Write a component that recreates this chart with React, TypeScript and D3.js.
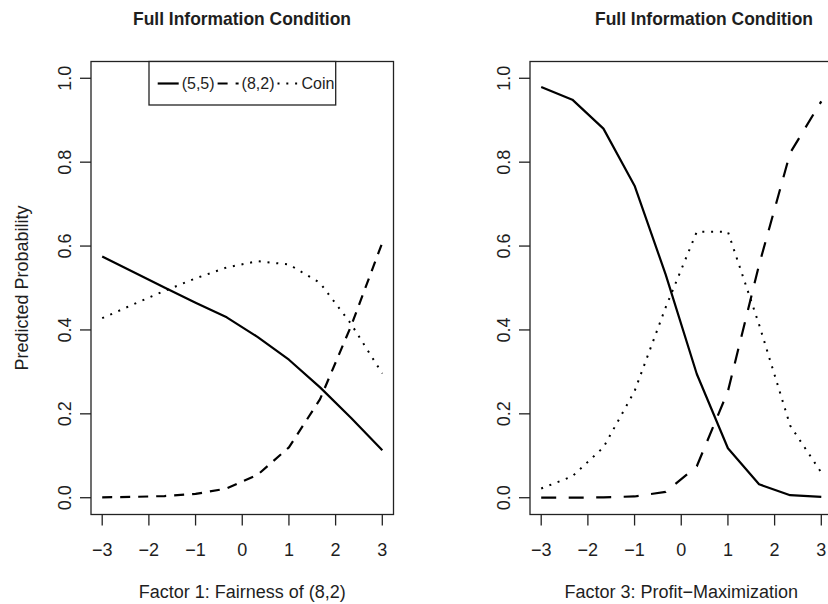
import React, { useRef, useEffect } from "react";
import * as d3 from "d3";

// evaluation grid of the factor scores (10 points from -3 to 3)
const factorGrid = [-3, -2.333, -1.667, -1, -0.333, 0.333, 1, 1.667, 2.333, 3];
const xTicks = [-3, -2, -1, 0, 1, 2, 3];
const yTicks = [0, 0.2, 0.4, 0.6, 0.8, 1.0];

// Factor 1: Fairness of (8,2)
const fairnessEven = [0.575, 0.538, 0.501, 0.465, 0.43, 0.383, 0.329, 0.263, 0.19, 0.113];
const fairnessUneven = [0.001, 0.002, 0.004, 0.009, 0.022, 0.055, 0.12, 0.235, 0.41, 0.608];
const fairnessCoin = [0.428, 0.461, 0.493, 0.523, 0.549, 0.564, 0.556, 0.512, 0.414, 0.296];

// Factor 3: Profit-Maximization
const profitEven = [0.979, 0.949, 0.88, 0.744, 0.532, 0.295, 0.118, 0.032, 0.006, 0.002];
const profitUneven = [0.0, 0.0, 0.001, 0.003, 0.014, 0.075, 0.254, 0.555, 0.822, 0.945];
const profitCoin = [0.022, 0.051, 0.12, 0.254, 0.454, 0.634, 0.634, 0.413, 0.172, 0.06];

const legendLabels = ["(5,5)", "(8,2)", "Coin"];
const panelTitle = "Full Information Condition";
const xAxisTitles = ["Factor 1: Fairness of (8,2)", "Factor 3: Profit\u2212Maximization"];
const yAxisTitle = "Predicted Probability";

const FONT = "'Liberation Sans', Arial, Helvetica, sans-serif";
const INK = "#1e1e1e";

const App = () => {
    const ref = useRef<SVGSVGElement>(null);

    useEffect(() => {
        const svg = d3.select(ref.current);
        svg.selectAll("*").remove();

        const width = 828;
        const height = 604;
        const top = 61.5;
        const bottom = 514.5;

        svg.attr("width", width).attr("height", height).style("background", "#fff");

        const y = d3.scaleLinear().domain([-0.04, 1.04]).range([bottom, top]);

        const panels = [
            {
                x0: 91, x1: 393.5,
                series: [fairnessEven, fairnessUneven, fairnessCoin],
                dash: "10,8",
                xTitle: xAxisTitles[0],
                titleX: 242,
                first: true,
            },
            {
                x0: 530, x1: 832.5,
                series: [profitEven, profitUneven, profitCoin],
                dash: "15,12.5",
                xTitle: xAxisTitles[1],
                titleX: 704,
                first: false,
            },
        ];

        const dotDash = "2,6.8";

        panels.forEach(p => {
            const x = d3.scaleLinear().domain([-3.24, 3.24]).range([p.x0, p.x1]);
            const g = svg.append("g");

            const line = d3.line<number>()
                .x((_, i) => x(factorGrid[i]))
                .y(d => y(d));

            const styles = [
                { dash: null, width: 2.2 },
                { dash: p.dash, width: 2.2 },
                { dash: dotDash, width: 2 },
            ];

            p.series.forEach((s, i) => {
                g.append("path")
                    .datum(s)
                    .attr("fill", "none")
                    .attr("stroke", "#000")
                    .attr("stroke-width", styles[i].width)
                    .attr("stroke-linejoin", "round")
                    .attr("stroke-dasharray", styles[i].dash)
                    .attr("d", line);
            });

            // plot box
            g.append("rect")
                .attr("x", p.x0)
                .attr("y", top)
                .attr("width", p.x1 - p.x0)
                .attr("height", bottom - top)
                .attr("fill", "none")
                .attr("stroke", "#222")
                .attr("stroke-width", 1.3);

            // x axis
            g.selectAll(".xt")
                .data(xTicks)
                .enter()
                .append("line")
                .attr("x1", d => x(d))
                .attr("x2", d => x(d))
                .attr("y1", bottom)
                .attr("y2", bottom + 11)
                .attr("stroke", "#222")
                .attr("stroke-width", 1.3);

            g.selectAll(".xl")
                .data(xTicks)
                .enter()
                .append("text")
                .attr("x", d => x(d))
                .attr("y", 556)
                .attr("text-anchor", "middle")
                .style("font-family", FONT)
                .style("font-size", "18px")
                .attr("fill", INK)
                .text(d => d3.format("d")(d));

            // y axis
            g.selectAll(".yt")
                .data(yTicks)
                .enter()
                .append("line")
                .attr("x1", p.x0 - 11)
                .attr("x2", p.x0)
                .attr("y1", d => y(d))
                .attr("y2", d => y(d))
                .attr("stroke", "#222")
                .attr("stroke-width", 1.3);

            g.selectAll(".yl")
                .data(yTicks)
                .enter()
                .append("text")
                .attr("transform", d => `translate(${p.x0 - 20},${y(d)}) rotate(-90)`)
                .attr("text-anchor", "middle")
                .style("font-family", FONT)
                .style("font-size", "18px")
                .attr("fill", INK)
                .text(d => d3.format(".1f")(d));

            // titles (slightly condensed bold, like the original)
            g.append("text")
                .attr("x", p.titleX)
                .attr("y", 25)
                .attr("text-anchor", "middle")
                .attr("textLength", 218)
                .attr("lengthAdjust", "spacingAndGlyphs")
                .style("font-family", FONT)
                .style("font-size", "18.5px")
                .style("font-weight", "bold")
                .attr("fill", INK)
                .text(panelTitle);

            g.append("text")
                .attr("x", (p.x0 + p.x1) / 2)
                .attr("y", 598)
                .attr("text-anchor", "middle")
                .style("font-family", FONT)
                .style("font-size", "18px")
                .attr("fill", INK)
                .text(p.xTitle);

            if (p.first) {
                g.append("text")
                    .attr("transform", `translate(28,${(top + bottom) / 2}) rotate(-90)`)
                    .attr("text-anchor", "middle")
                    .style("font-family", FONT)
                    .style("font-size", "18px")
                    .attr("fill", INK)
                    .text(yAxisTitle);

                // legend (horizontal, top)
                const lg = g.append("g");
                lg.append("rect")
                    .attr("x", 149)
                    .attr("y", top)
                    .attr("width", 186.7)
                    .attr("height", 43.5)
                    .attr("fill", "#fff")
                    .attr("stroke", "#222")
                    .attr("stroke-width", 1.3);

                let cx = 157.7;
                const cy = 83.5;
                legendLabels.forEach((label, i) => {
                    lg.append("line")
                        .attr("x1", cx)
                        .attr("x2", cx + 21)
                        .attr("y1", cy)
                        .attr("y2", cy)
                        .attr("stroke", "#000")
                        .attr("stroke-width", styles[i].width)
                        .attr("stroke-dasharray", styles[i].dash);
                    const t = lg.append("text")
                        .attr("x", cx + 24)
                        .attr("y", cy + 5.7)
                        .style("font-family", FONT)
                        .style("font-size", "16px")
                        .attr("fill", INK)
                        .text(label);
                    const w = (t.node() as SVGTextElement).getComputedTextLength();
                    cx = cx + 24 + w + 3;
                });
            }
        });
    }, []);

    return (
        <svg ref={ref} style={{ position: "absolute", left: 0, top: 0 }}></svg>
    );
};

export default App;
